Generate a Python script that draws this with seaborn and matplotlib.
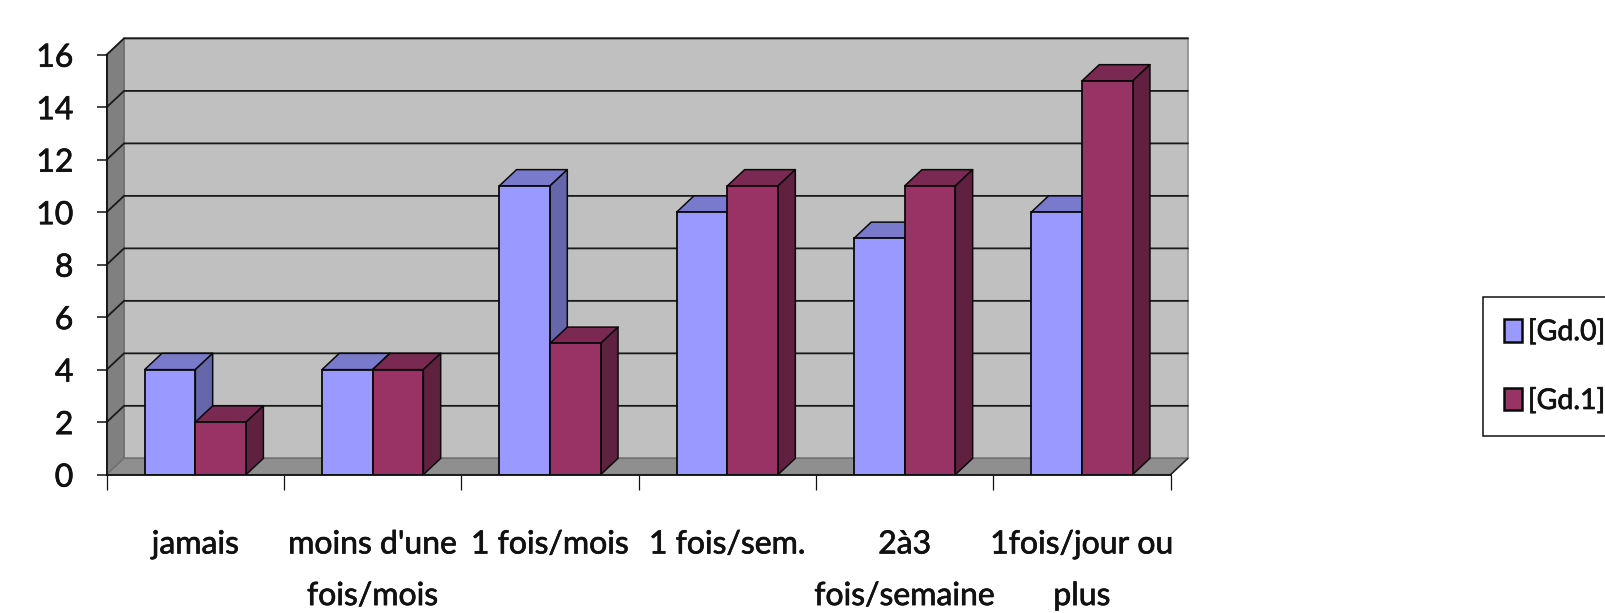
import matplotlib
matplotlib.use("Agg")
import matplotlib.pyplot as plt
from matplotlib.patches import Polygon
import matplotlib.patheffects as pe
import pandas as pd
import seaborn as sns

categories = ["jamais", "moins d'une\nfois/mois", "1 fois/mois", "1 fois/sem.",
              "2à3\nfois/semaine", "1fois/jour ou\nplus"]
gd0 = [4, 4, 11, 10, 9, 10]
gd1 = [2, 4, 5, 11, 11, 15]
series_names = ["[Gd.0]", "[Gd.1]"]
y_ticks = [0, 2, 4, 6, 8, 10, 12, 14, 16]

FRONT = ["#9999FF", "#993366"]
TOP = ["#7A7ACC", "#7A2952"]
SIDE = ["#6666AA", "#602040"]
W, H = 1605, 613
FONT = ["Lato", "DejaVu Sans"]
DX, DY = 0.0976, 0.62   # depth of the 3-D effect in data units

sns.set_theme(style="white")
plt.rcParams["font.family"] = FONT

df = pd.DataFrame({
    "cat": categories * 2,
    "val": gd0 + gd1,
    "serie": [series_names[0]] * 6 + [series_names[1]] * 6,
})

fig = plt.figure(figsize=(W / 100, H / 100), dpi=100, facecolor="white")
ax = fig.add_axes([106.7 / W, 1 - 474.6 / H, 1063.9 / W, 419.9 / H])
sns.barplot(data=df, x="cat", y="val", hue="serie", palette=FRONT, saturation=1,
            width=0.572, gap=0, edgecolor="#0A0A0A", linewidth=1.3, ax=ax)
n = len(categories)
x0, x1 = -0.5, n - 0.5
ax.set_xlim(x0, x1)
ax.set_ylim(0, 16)
ax.set_xlabel("")
ax.set_ylabel("")
ax.patch.set_visible(False)

# walls and floor
ax.add_patch(Polygon([(x0 + DX, DY), (x1 + DX, DY), (x1 + DX, 16 + DY), (x0 + DX, 16 + DY)],
                     fc="#C0C0C0", ec="#8A8A8A", lw=1.2, zorder=0.5, clip_on=False))
ax.add_patch(Polygon([(x0, 0), (x0 + DX, DY), (x0 + DX, 16 + DY), (x0, 16)],
                     fc="#808080", ec="#6A6A6A", lw=1, zorder=0.6, clip_on=False))
ax.add_patch(Polygon([(x0, 0), (x1, 0), (x1 + DX, DY), (x0 + DX, DY)],
                     fc="#8F8F8F", ec="#707070", lw=1, zorder=0.6, clip_on=False))
ax.plot([x1, x1 + DX], [0, DY], color="#222222", lw=1.1, zorder=0.7, clip_on=False)
for v in y_ticks[1:]:
    ax.plot([x0, x0 + DX, x1 + DX], [v, v + DY, v + DY], color="#1A1A1A", lw=1.3,
            zorder=0.8, clip_on=False, solid_joinstyle="miter")

# 3-D faces of the bars
bar_sets = ax.containers
for s, container in enumerate(bar_sets):
    for bar in container:
        bar.set_zorder(2.1 + s * 0.2)
        l, b, w, h = bar.get_x(), bar.get_y(), bar.get_width(), bar.get_height()
        r, t = l + w, b + h
        ax.add_patch(Polygon([(l, t), (r, t), (r + DX, t + DY), (l + DX, t + DY)],
                             fc=TOP[s], ec="#0A0A0A", lw=1.1, zorder=2.0 + s * 0.2,
                             clip_on=False, joinstyle="round"))
        ax.add_patch(Polygon([(r, b), (r + DX, b + DY), (r + DX, t + DY), (r, t)],
                             fc=SIDE[s], ec="#0A0A0A", lw=1.1, zorder=2.0 + s * 0.2,
                             clip_on=False, joinstyle="round"))

# axes and ticks
for sp in ("top", "right"):
    ax.spines[sp].set_visible(False)
for sp in ("left", "bottom"):
    ax.spines[sp].set_color("#111111")
    ax.spines[sp].set_linewidth(1.3)
    ax.spines[sp].set_zorder(3)
ax.set_yticks(y_ticks)
ax.set_yticklabels([str(v) for v in y_ticks])
ax.tick_params(axis="y", which="major", left=True, length=7.5, width=1.1, color="#111111",
               labelsize=23, pad=16.5, labelcolor="#111111")
ax.set_xticks(range(n))
ax.set_xticklabels(categories, linespacing=1.9)
ax.set_xticks([x0 + i for i in range(n + 1)], minor=True)
ax.tick_params(axis="x", which="minor", bottom=True, length=11, width=0.9, color="#111111")
ax.tick_params(axis="x", which="major", bottom=False, length=0, labelsize=23, pad=39.5,
               labelcolor="#111111")

# legend
handles, labels = ax.get_legend_handles_labels()
for hd in handles:
    hd.set_linewidth(1.8)
leg = ax.legend(handles, labels, loc="upper left", bbox_to_anchor=(1482.6 / W, 1 - 296.5 / H),
                bbox_transform=fig.transFigure, borderaxespad=0, fontsize=20.5, frameon=True,
                fancybox=False, framealpha=1, edgecolor="#111111", labelcolor="#111111",
                handlelength=0.63, handleheight=0.84, handletextpad=0.2, borderpad=0.76,
                labelspacing=1.47)
leg.get_frame().set_linewidth(1.1)

# slightly heavier strokes, as in the reference's lettering
stroke = [pe.withStroke(linewidth=0.5, foreground="#111111")]
for t in ax.get_xticklabels() + ax.get_yticklabels() + leg.get_texts():
    t.set_path_effects(stroke)

fig.savefig("out.png", dpi=100, facecolor="white")
